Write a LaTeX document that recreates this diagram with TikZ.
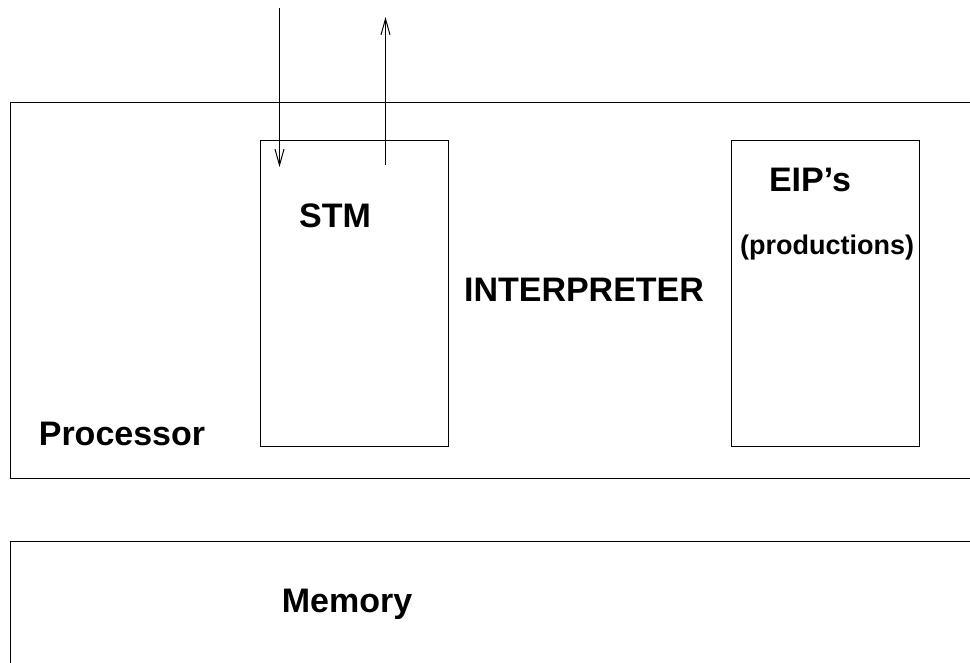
\documentclass[tikz,border=0pt]{standalone}
\usepackage{fontspec}
\setmainfont{Liberation Sans}
\usetikzlibrary{arrows.meta,positioning}

\begin{document}
\begin{tikzpicture}[x=1pt,y=-1pt, line width=1pt,
every node/.style={font=\fontsize{34}{40}\bfseries\selectfont,inner sep=0pt},
box/.style={draw,rectangle,anchor=north west},
small/.style={font=\fontsize{27}{32}\bfseries\selectfont},
arrow/.style={-{Straight Barb[length=16pt,width=9pt]}}]
\clip (0,0) rectangle (970,663);
% outer blocks
\node[box,minimum width=990pt,minimum height=376pt] (processor) at (10,102) {};
\node[box,minimum width=990pt,minimum height=160pt] (memory) at (10,541) {};
% inner blocks
\node[box,minimum width=188pt,minimum height=306pt] (stm) at (260,140) {};
\node[box,minimum width=188pt,minimum height=306pt] (eip) at (731,140) {};
% labels
\node (stmlabel) at (335,216) {STM};
\node (interp) at (584,290) {INTERPRETER};
\node (eiplabel) at (810,180) {EIP’s};
\node[small] (prod) at (827,248) {(productions)};
\node (proclabel) at (122,434) {Processor};
\node (memlabel) at (347,604) {Memory};
% input and output
\coordinate (intop) at (279.5,8);
\coordinate (inend) at (279.5,167);
\coordinate (outstart) at (385.5,165);
\coordinate (outtop) at (385.5,17);
\draw[arrow] (intop)--(inend);
\draw[arrow] (outstart)--(outtop);
\end{tikzpicture}
\end{document}
